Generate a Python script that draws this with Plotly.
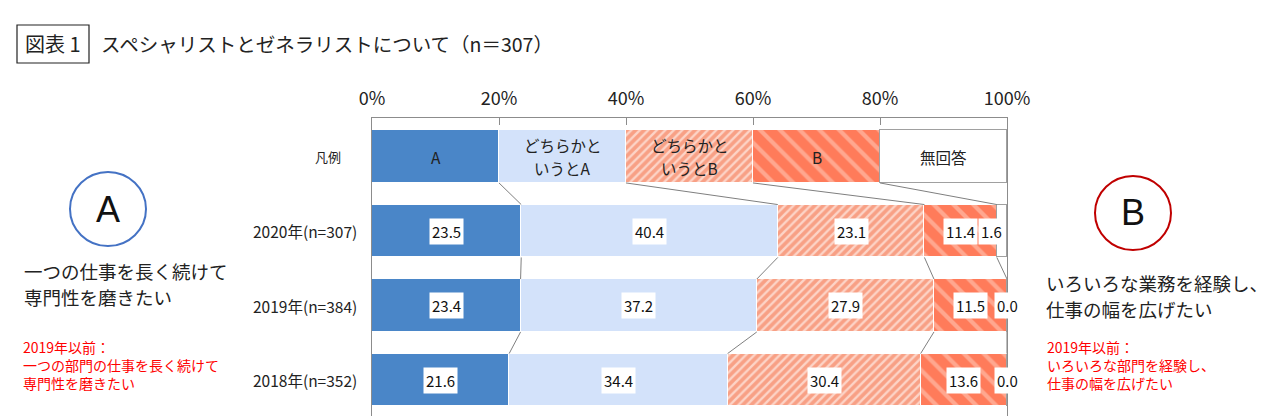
import plotly.graph_objects as go

# ---------------- data ----------------
years = ["2020年(n=307)", "2019年(n=384)", "2018年(n=352)"]
legend_row_label = "凡例"
categories = ["A", "どちらかというとA", "どちらかというとB", "B", "無回答"]
legend_lines = [["A"], ["どちらかと", "いうとA"], ["どちらかと", "いうとB"], ["B"], ["無回答"]]
legend_span = [20, 20, 20, 20, 20]
val_A = [23.5, 23.4, 21.6]
val_rA = [40.4, 37.2, 34.4]
val_rB = [23.1, 27.9, 30.4]
val_B = [11.4, 11.5, 13.6]
val_NA = [1.6, 0.0, 0.0]
tick_vals = [0, 20, 40, 60, 80, 100]
tick_text = ["0%", "20%", "40%", "60%", "80%", "100%"]

title_tag = "図表 1"
title_text = "スペシャリストとゼネラリストについて（n＝307）"
left_main = ["一つの仕事を長く続けて", "専門性を磨きたい"]
left_note = ["2019年以前：", "一つの部門の仕事を長く続けて", "専門性を磨きたい"]
right_main = ["いろいろな業務を経験し、", "仕事の幅を広げたい"]
right_note = ["2019年以前：", "いろいろな部門を経験し、", "仕事の幅を広げたい"]

series = [val_A, val_rA, val_rB, val_B, val_NA]

# ---------------- style ----------------
W, H = 1280, 416
JP = "Noto Sans CJK JP"
BAR_W = 0.71
styles = [
    dict(color="#4A86C8", line="#FFFFFF", pattern=None),
    dict(color="#D3E2FA", line="#FFFFFF", pattern=None),
    dict(color="#F8A085", line="#FFFFFF",
         pattern=dict(shape="/", fillmode="replace", bgcolor="#F8A085", fgcolor="#FDD4C7", size=6, solidity=0.4)),
    dict(color="#FF7B5A", line="#FFFFFF",
         pattern=dict(shape="\\", fillmode="replace", bgcolor="#FF7B5A", fgcolor="#FFA78F", size=14, solidity=0.3)),
    dict(color="#FFFFFF", line="#A0A0A0", pattern=None),
]


def px(x):
    return x / W


def py(y):
    return 1 - y / H


rows = list(range(len(years) + 1))  # 0 = legend row

fig = go.Figure()
for i, cat in enumerate(categories):
    st = styles[i]
    marker = dict(color=st["color"], line=dict(color=st["line"], width=1))
    if st["pattern"]:
        marker["pattern"] = st["pattern"]
    fig.add_trace(go.Bar(
        name=cat, orientation="h", y=rows, x=[legend_span[i]] + series[i],
        width=BAR_W, marker=marker, hoverinfo="skip",
    ))

annotations = []
shapes = []

# legend row texts
cum = 0
for i, lines in enumerate(legend_lines):
    center = cum + legend_span[i] / 2
    n = len(lines)
    for k, t in enumerate(lines):
        shift = (n - 1) / 2 * 23 - k * 23
        annotations.append(dict(x=center, y=0, xref="x", yref="y", text=t, showarrow=False,
                                xanchor="center", yanchor="middle",
                                yshift=shift, font=dict(family=JP, size=15.5, color="#222222")))
    cum += legend_span[i]

# data labels
for r in range(len(years)):
    cum = 0
    for i in range(len(categories)):
        v = series[i][r]
        common = dict(y=r + 1, xref="x", yref="y", text=f"{v:.1f}", showarrow=False, yanchor="middle",
                      bgcolor="#FFFFFF", borderpad=2, font=dict(family=JP, size=15, color="#111111"))
        if 0 < v < 5:
            annotations.append(dict(x=100, xanchor="right", xshift=-2, **common))
        else:
            annotations.append(dict(x=cum + v / 2, xanchor="center", **common))
        cum += v

# connector lines between rows
all_rows = [legend_span] + [[s[r] for s in series] for r in range(len(years))]
cums = []
for row in all_rows:
    c, acc = [], 0
    for v in row[:-1]:
        acc += v
        c.append(acc)
    cums.append(c)
for r in range(len(all_rows) - 1):
    for a, b in zip(cums[r], cums[r + 1]):
        shapes.append(dict(type="line", xref="x", yref="y", x0=a, y0=r + BAR_W / 2, x1=b, y1=r + 1 - BAR_W / 2,
                           line=dict(color="#7F7F7F", width=1)))

# row labels
annotations.append(dict(x=px(343), y=0, xref="paper", yref="y", text=legend_row_label, showarrow=False,
                        xanchor="right", yanchor="middle", font=dict(family=JP, size=13, color="#222222")))
for r, t in enumerate(years):
    annotations.append(dict(x=px(359), y=r + 1, xref="paper", yref="y", text=t, showarrow=False,
                            xanchor="right", yanchor="middle", font=dict(family=JP, size=15.5, color="#222222")))

# title
shapes.append(dict(type="rect", xref="paper", yref="paper", x0=px(17), x1=px(89), y0=py(63), y1=py(25),
                   line=dict(color="#222222", width=1.2)))
annotations.append(dict(x=px(53), y=py(44), xref="paper", yref="paper", text=title_tag, showarrow=False,
                        xanchor="center", yanchor="middle", font=dict(family=JP, size=20, color="#222222")))
annotations.append(dict(x=px(99), y=py(44), xref="paper", yref="paper", text=title_text, showarrow=False,
                        xanchor="left", yanchor="middle", font=dict(family=JP, size=19.5, color="#222222")))

# circles
for cx, cy, col, letter in [(108, 209, "#4472C4", "A"), (1133, 213, "#C00000", "B")]:
    shapes.append(dict(type="circle", xref="paper", yref="paper", x0=px(cx - 38), x1=px(cx + 38),
                       y0=py(cy + 37), y1=py(cy - 37), line=dict(color=col, width=2)))
    annotations.append(dict(x=px(cx), y=py(cy), xref="paper", yref="paper", text=letter, showarrow=False,
                            xanchor="center", yanchor="middle",
                            font=dict(family="Liberation Sans", size=36, color="#111111")))


def block(lines, x0, y0, dy, size, color):
    for k, t in enumerate(lines):
        annotations.append(dict(x=px(x0), y=py(y0 + k * dy), xref="paper", yref="paper", text=t,
                                showarrow=False, xanchor="left", yanchor="middle",
                                font=dict(family=JP, size=size, color=color)))


def note(lines, x0, y_center, size, color):
    annotations.append(dict(x=px(x0), y=py(y_center), xref="paper", yref="paper", text="<br>".join(lines),
                            showarrow=False, xanchor="left", yanchor="middle", align="left",
                            font=dict(family=JP, size=size, color=color)))


block(left_main, 22, 271, 26, 18.5, "#222222")
note(left_note, 21, 365, 14, "#FF0000")
block(right_main, 1044, 283, 26, 18.5, "#222222")
note(right_note, 1045, 365, 14, "#FF0000")

fig.update_layout(
    width=W, height=H, autosize=False, margin=dict(l=0, r=0, t=0, b=0, pad=0),
    paper_bgcolor="#FFFFFF", plot_bgcolor="#FFFFFF", barmode="stack", showlegend=False,
    bargap=0, annotations=annotations, shapes=shapes,
    xaxis=dict(domain=[px(372), px(1007)], range=[0, 100], side="top", showline=True, linecolor="#8C8C8C",
               linewidth=1, ticks="inside", ticklen=7, tickcolor="#8C8C8C", tickvals=tick_vals,
               ticktext=tick_text, tickfont=dict(family=JP, size=18, color="#222222"), showgrid=False,
               zeroline=False, fixedrange=True, ticklabelstandoff=5, automargin=False),
    yaxis=dict(domain=[0, py(118)], range=[(416 - 156.5) / 74.5, (118 - 156.5) / 74.5], showline=True,
               mirror=True, linecolor="#8C8C8C", linewidth=1, showticklabels=False, ticks="",
               showgrid=False, zeroline=False, fixedrange=True, automargin=False),
)

fig.write_html("out.html")
